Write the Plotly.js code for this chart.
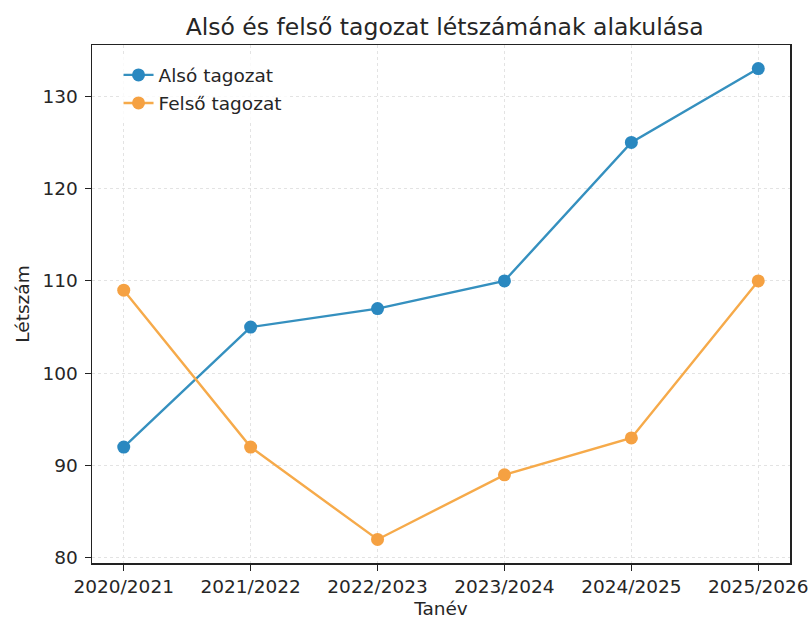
<!DOCTYPE html>
<html>
<head>
<meta charset="utf-8">
<script src="https://cdn.plot.ly/plotly-3.0.1.min.js"></script>
<style>html,body{margin:0;padding:0;background:#fff;}#chart{width:810px;height:626px;}</style>
</head>
<body>
<div id="chart"></div>
<script>
const categories = ["2020/2021", "2021/2022", "2022/2023", "2023/2024", "2024/2025", "2025/2026"];
const alsoValues = [92, 105, 107, 110, 125, 133];
const felsoValues = [109, 92, 82, 89, 93, 110];
const seriesNames = ["Alsó tagozat", "Felső tagozat"];
const yTicks = [80, 90, 100, 110, 120, 130];

const font = "DejaVu Sans, sans-serif";
const traces = [
  {x: categories, y: alsoValues, name: seriesNames[0], type: "scatter", mode: "lines+markers", legendgroup: "a",
   line: {color: "#3590bf", width: 2.4}, marker: {color: "#2a88c0", size: 13}},
  {x: categories, y: felsoValues, name: seriesNames[1], type: "scatter", mode: "lines+markers", legendgroup: "b",
   line: {color: "#f6aa4a", width: 2.4}, marker: {color: "#f5a142", size: 13}}
];
const layout = {
  width: 810, height: 626,
  margin: {l: 92, r: 20, t: 45, b: 63},
  paper_bgcolor: "#fff", plot_bgcolor: "#fff",
  font: {family: font, color: "#262626", size: 18},
  title: {text: "Alsó és felső tagozat létszámának alakulása", x: 0.549, xanchor: "center", y: 0.958, yanchor: "middle",
          font: {family: font, size: 23.5, color: "#262626"}},
  xaxis: {
    type: "category", range: [-0.25, 5.25],
    showline: true, linecolor: "#222", linewidth: 1.5, mirror: true,
    ticks: "outside", ticklen: 6, tickcolor: "#222",
    showgrid: true, gridcolor: "#e3e3e3", gridwidth: 1, griddash: "dot",
    tickfont: {family: font, size: 18.5, color: "#262626"},
    title: {text: "Tanév", font: {family: font, size: 18.5, color: "#262626"}, standoff: 6},
    zeroline: false
  },
  yaxis: {
    range: [79.45, 135.55], tickvals: yTicks,
    showline: true, linecolor: "#222", linewidth: 1.5, mirror: true,
    ticks: "outside", ticklen: 6, tickcolor: "#222", ticklabelstandoff: 3,
    showgrid: true, gridcolor: "#e3e3e3", gridwidth: 1, griddash: "dot",
    tickfont: {family: font, size: 18.5, color: "#262626"},
    title: {text: "Létszám", font: {family: font, size: 18.5, color: "#262626"}, standoff: 8},
    zeroline: false
  },
  legend: {x: 0.038, y: 0.978, xanchor: "left", yanchor: "top", bgcolor: "rgba(255,255,255,0.8)",
           traceorder: "grouped", tracegroupgap: 1,
           font: {family: font, size: 18.5, color: "#262626"}},
  showlegend: true
};
Plotly.newPlot("chart", traces, layout, {displayModeBar: false, staticPlot: true});
</script>
</body>
</html>
